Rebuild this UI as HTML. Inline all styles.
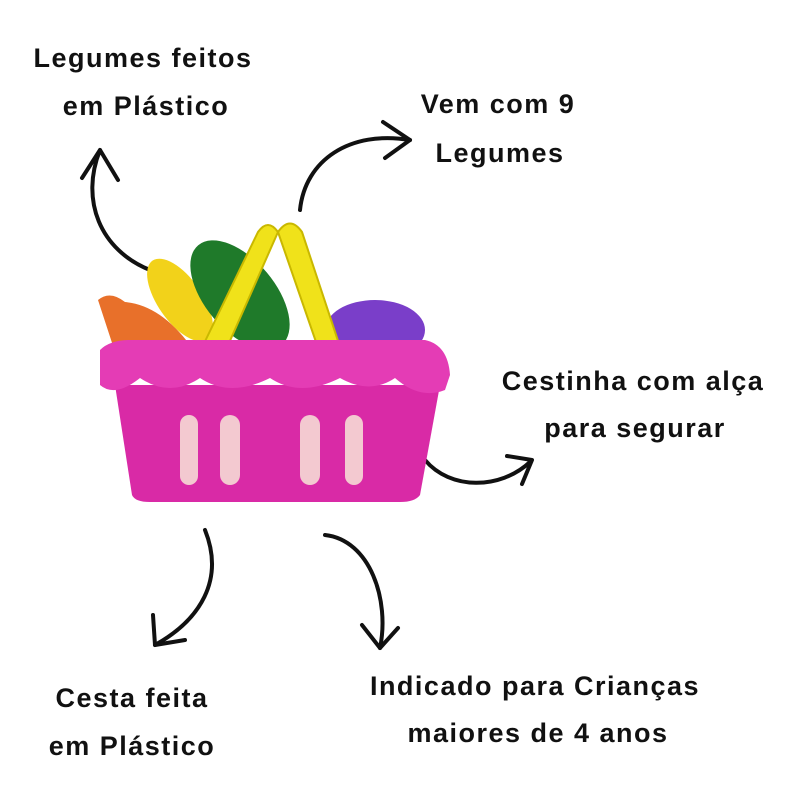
<!DOCTYPE html>
<html><head><meta charset="utf-8"><style>
body{margin:0;background:#fff;}
svg{display:block}
text{font-family:"Liberation Sans",sans-serif;font-size:27px;font-weight:bold;fill:#111;text-anchor:middle;letter-spacing:1.5px}
</style></head><body>
<svg width="800" height="800" viewBox="0 0 800 800" xmlns="http://www.w3.org/2000/svg">
<rect width="800" height="800" fill="#fff"/>
<text x="143" y="67">Legumes feitos</text>
<text x="146" y="115">em Plástico</text>
<text x="498" y="113">Vem com 9</text>
<text x="500" y="162">Legumes</text>
<text x="633" y="390">Cestinha com alça</text>
<text x="635" y="437">para segurar</text>
<text x="132" y="707">Cesta feita</text>
<text x="132" y="755">em Plástico</text>
<text x="535" y="695">Indicado para Crianças</text>
<text x="538" y="742">maiores de 4 anos</text>

<g fill="none" stroke="#111" stroke-width="4" stroke-linecap="round" stroke-linejoin="round">
<path d="M150 270 C100 250 80 200 100 150"/>
<path d="M82 178 L100 150 L118 180"/>
<path d="M300 210 C305 160 350 130 410 140"/>
<path d="M383 122 L410 140 L385 158"/>
<path d="M425 460 C450 490 500 490 530 462"/>
<path d="M507 456 L532 460 L522 484"/>
<path d="M205 530 C225 580 200 620 155 645"/>
<path d="M153 615 L155 645 L185 640"/>
<path d="M325 535 C370 540 390 600 380 648"/>
<path d="M362 625 L380 648 L398 628"/>
</g>

<!-- vegetables -->
<path d="M98 300 Q110 290 125 302 Q160 305 190 345 L115 352 Z" fill="#e8702a"/>
<ellipse cx="180" cy="300" rx="22" ry="48" transform="rotate(-35 180 300)" fill="#f2d21a"/>
<ellipse cx="240" cy="295" rx="35" ry="65" transform="rotate(-40 240 295)" fill="#1f7a2a"/>
<ellipse cx="375" cy="330" rx="50" ry="30" fill="#7a3ec9"/>
<!-- handles -->
<path d="M195 362 L258 232 Q268 218 278 232 L218 368 Z" fill="#f0e21a" stroke="#c9b800" stroke-width="2"/>
<path d="M278 232 Q290 215 302 232 L345 362 L325 368 Z" fill="#f0e21a" stroke="#c9b800" stroke-width="2"/>
<!-- basket body -->
<path d="M115 385 L440 385 L420 495 Q415 502 400 502 L150 502 Q135 502 132 495 Z" fill="#d92aa6"/>
<path d="M100 350 Q110 340 130 340 L425 340 Q448 345 450 375 L445 390 Q420 400 395 378 Q370 395 340 378 Q300 398 270 378 Q230 398 200 378 Q170 398 140 378 Q115 398 100 385 Z" fill="#e43cb5"/>
<g fill="#f3c9d0">
<rect x="180" y="415" width="18" height="70" rx="9"/>
<rect x="220" y="415" width="20" height="70" rx="10"/>
<rect x="300" y="415" width="20" height="70" rx="10"/>
<rect x="345" y="415" width="18" height="70" rx="9"/>
</g>
</svg>
</body></html>
